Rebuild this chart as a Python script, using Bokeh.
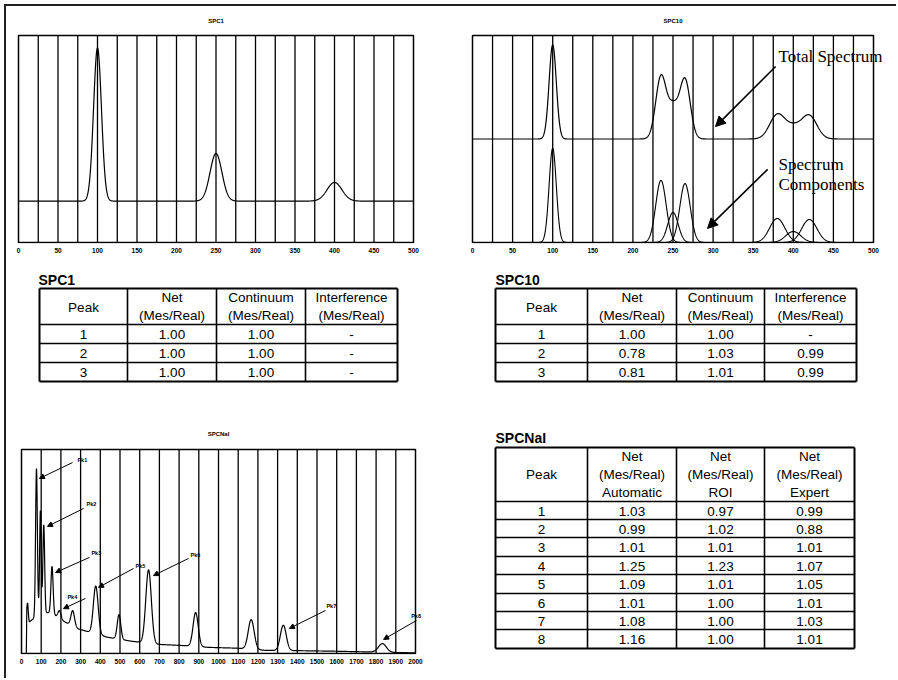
import numpy as np
from bokeh.plotting import figure
from bokeh.layouts import row, column
from bokeh.models import FixedTicker, Label, Arrow, NormalHead, Range1d, Spacer
from bokeh.embed import file_html
from bokeh.resources import INLINE
from bokeh.core.properties import value

# ---------------- data ----------------
# SPC1 spectrum (peaks on a flat continuum)
spc1_centers = [100, 250, 400]
spc1_heights = [0.74, 0.23, 0.09]
spc1_sigmas = [5.0, 7.5, 9.5]
spc1_continuum = 0.20

# SPC10 spectrum components
spc10_centers = [100, 235, 250, 265, 380, 400, 420]
spc10_heights = [0.455, 0.30, 0.145, 0.285, 0.116, 0.053, 0.111]
spc10_sigmas = [4.5, 6.5, 6.5, 6.5, 9.5, 9.5, 9.5]

# SPCNaI spectrum: continuum knots + peaks
nai_cont_x = [22, 24.5, 27, 40, 60, 90, 150, 200, 290, 435, 560, 690, 840, 950, 1100, 1245, 1400, 1600, 1750, 1950, 2000]
nai_cont_y = [0.0, 0.0, 0.20, 0.155, 0.17, 0.20, 0.20, 0.165, 0.12, 0.08, 0.06, 0.045, 0.038, 0.03, 0.026, 0.015, 0.014, 0.011, 0.008, 0.004, 0.003]
nai_centers = [31, 76, 96, 113, 155, 193, 260, 377, 495, 645, 884, 1166, 1329, 1832]
nai_heights = [0.06, 0.72, 0.50, 0.43, 0.23, 0.04, 0.075, 0.235, 0.12, 0.36, 0.166, 0.145, 0.124, 0.042]
nai_sigmas = [3, 4.5, 4, 4.5, 5.5, 8, 9, 12, 9, 14, 13, 15, 15, 20]
nai_peak_labels = ["Pk1", "Pk2", "Pk3", "Pk4", "Pk5", "Pk6", "Pk7", "Pk8"]

# axis ticks
top_label_ticks = [0, 50, 100, 150, 200, 250, 300, 350, 400, 450, 500]
top_grid_ticks = [25, 50, 75, 100, 125, 150, 175, 200, 225, 250, 275, 300, 325, 350, 375, 400, 425, 450, 475]
nai_label_ticks = [0, 100, 200, 300, 400, 500, 600, 700, 800, 900, 1000, 1100, 1200, 1300, 1400, 1500, 1600, 1700, 1800, 1900, 2000]
nai_grid_ticks = [100, 200, 300, 400, 500, 600, 700, 800, 900, 1000, 1100, 1200, 1300, 1400, 1500, 1600, 1700, 1800, 1900]

# tables
spc1_peak = ["1", "2", "3"]
spc1_net = ["1.00", "1.00", "1.00"]
spc1_cont = ["1.00", "1.00", "1.00"]
spc1_interf = ["-", "-", "-"]

spc10_peak = ["1", "2", "3"]
spc10_net = ["1.00", "0.78", "0.81"]
spc10_cont = ["1.00", "1.03", "1.01"]
spc10_interf = ["-", "0.99", "0.99"]

nai_peak = ["1", "2", "3", "4", "5", "6", "7", "8"]
nai_auto = ["1.03", "0.99", "1.01", "1.25", "1.09", "1.01", "1.08", "1.16"]
nai_roi = ["0.97", "1.02", "1.01", "1.23", "1.01", "1.00", "1.00", "1.00"]
nai_expert = ["0.99", "0.88", "1.01", "1.07", "1.05", "1.01", "1.03", "1.01"]

# ---------------- helpers ----------------
SANS = "Liberation Sans"
SERIF = "Liberation Serif"


def gauss(x, c, h, s):
    return h * np.exp(-0.5 * ((x - c) / s) ** 2)


def spectrum_fig(w, h, mbl, mbr, mbt, mbb, xmax, px_per_x, frame_w, px_per_y, top_extra,
                 title_gap, label_ticks, grid_ticks, title):
    # ranges padded so the drawn box (and title) sit inside the frame
    x0 = -2.0 / px_per_x
    x1 = x0 + frame_w / px_per_x
    y0 = -1.0 / px_per_y
    y1 = 1.0 + top_extra / px_per_y
    p = figure(width=w, height=h, x_range=Range1d(x0, x1), y_range=Range1d(y0, y1),
               output_backend="svg", toolbar_location=None, y_axis_type=None,
               min_border_left=mbl, min_border_right=mbr, min_border_top=mbt, min_border_bottom=mbb)
    p.outline_line_color = None
    p.background_fill_color = "white"
    p.border_fill_color = "white"
    ax = p.xaxis[0]
    ax.ticker = FixedTicker(ticks=label_ticks)
    ax.axis_line_color = None
    ax.major_tick_line_color = None
    ax.minor_tick_line_color = None
    ax.major_tick_out = 0
    ax.major_tick_in = 0
    ax.major_label_text_font = SANS
    ax.major_label_text_font_size = "6.5px"
    ax.major_label_text_font_style = "bold"
    ax.major_label_text_color = "black"
    ax.major_label_standoff = 4
    p.xgrid[0].grid_line_color = None
    # vertical grid lines inside the box
    p.segment(x0=grid_ticks, y0=[0] * len(grid_ticks), x1=grid_ticks, y1=[1] * len(grid_ticks),
              line_color="black", line_width=1.3)
    # plot box
    p.quad(left=[0], right=[xmax], bottom=[0], top=[1], fill_color=None,
           line_color="black", line_width=1.5)
    # title centred over the box
    p.add_layout(Label(x=xmax / 2.0, y=1.0 + title_gap / px_per_y, text=title, text_font=SANS,
                       text_font_size="6px", text_font_style="bold", text_align="center",
                       text_baseline="middle", text_color="black"))
    return p


def table_fig(w, h, title, tx, ty, col_x, row_y, header, body, outer_w=2.0, inner_w=1.6):
    p = figure(width=w, height=h, x_range=Range1d(0, w), y_range=Range1d(h, 0),
               output_backend="svg", toolbar_location=None, x_axis_type=None, y_axis_type=None,
               min_border=0, outline_line_color=None)
    p.background_fill_color = "white"
    p.border_fill_color = "white"
    p.grid.visible = False
    p.text(x=[tx], y=[ty], text=[title], text_font=value(SANS), text_font_size="14px",
           text_font_style="bold", text_baseline="middle", text_align="left", text_color="black")
    x0, x1 = col_x[0], col_x[-1]
    y0, y1 = row_y[0], row_y[-1]
    p.segment(x0=[x0] * (len(row_y) - 2), y0=row_y[1:-1], x1=[x1] * (len(row_y) - 2), y1=row_y[1:-1],
              line_color="black", line_width=inner_w)
    p.segment(x0=col_x[1:-1], y0=[y0] * (len(col_x) - 2), x1=col_x[1:-1], y1=[y1] * (len(col_x) - 2),
              line_color="black", line_width=inner_w)
    p.segment(x0=[x0, x0, x0, x1], y0=[y0, y1, y0, y0], x1=[x1, x1, x0, x1], y1=[y0, y1, y1, y1],
              line_color="black", line_width=outer_w)
    hx, hy, ht = [], [], []
    for ci, lines in header:
        for txt, yy in lines:
            hx.append((col_x[ci] + col_x[ci + 1]) / 2)
            hy.append(yy)
            ht.append(txt)
    p.text(x=hx, y=hy, text=ht, text_font=value(SANS), text_font_size="13.5px",
           text_baseline="middle", text_align="center", text_color="black")
    bx, by, bt = [], [], []
    for ci, col in enumerate(body):
        for ri, txt in enumerate(col):
            bx.append((col_x[ci] + col_x[ci + 1]) / 2)
            by.append((row_y[ri + 1] + row_y[ri + 2]) / 2 + 0.5)
            bt.append(txt)
    p.text(x=bx, y=by, text=bt, text_font=value(SANS), text_font_size="13.5px",
           text_baseline="middle", text_align="center", text_color="black")
    return p


def bar(w, h):
    return Spacer(width=w, height=h, styles={"background-color": "#222222"})


# ---------------- SPC1 chart ----------------
p1 = spectrum_fig(434, 256, 10, 25, 6, 19, 500, 0.79, 399, 207.0, 23, 15,
                  top_label_ticks, top_grid_ticks, "SPC1")
x1 = np.linspace(0, 500, 2001)
y1 = np.full_like(x1, spc1_continuum)
for c, hh, s in zip(spc1_centers, spc1_heights, spc1_sigmas):
    y1 = y1 + gauss(x1, c, hh, s)
p1.line(x1, y1, line_color="black", line_width=1.2)

# ---------------- SPC10 chart ----------------
p2 = spectrum_fig(456, 256, 30, 6, 6, 19, 500, 0.802, 420, 207.0, 23, 15,
                  top_label_ticks, top_grid_ticks, "SPC10")
total_offset = 0.5
x2 = np.linspace(0, 500, 2001)
tot = np.full_like(x2, total_offset)
for c, hh, s in zip(spc10_centers, spc10_heights, spc10_sigmas):
    tot = tot + gauss(x2, c, hh, s)
    xc = np.linspace(c - 4 * s, c + 4 * s, 161)
    p2.line(xc, gauss(xc, c, hh, s), line_color="black", line_width=1.1)
p2.line(x2, tot, line_color="black", line_width=1.2)

for txt, yy in [("Total Spectrum", 0.90), ("Spectrum", 0.377), ("Components", 0.28)]:
    p2.add_layout(Label(x=381.5, y=yy, text=txt, text_font=SERIF, text_font_size="17px",
                        text_baseline="middle", text_align="left", text_color="black"))
for xs, ys, xe, ye in [(378, 0.85, 303, 0.56), (368, 0.353, 293, 0.068)]:
    p2.add_layout(Arrow(end=NormalHead(size=10, fill_color="black", line_color="black"),
                        x_start=xs, y_start=ys, x_end=xe, y_end=ye,
                        line_color="black", line_width=1.6))

# ---------------- tables row ----------------
hdr3 = [(0, [("Peak", 45)]),
        (1, [("Net", 35), ("(Mes/Real)", 53)]),
        (2, [("Continuum", 35), ("(Mes/Real)", 53)]),
        (3, [("Interference", 35), ("(Mes/Real)", 53)])]
t1 = table_fig(434, 138, "SPC1", 32, 17, [33, 121, 210, 299, 391], [26, 62, 81, 100, 119],
               hdr3, [spc1_peak, spc1_net, spc1_cont, spc1_interf])
t2 = table_fig(456, 138, "SPC10", 55, 17, [55, 147, 236, 324, 416], [26, 62, 81, 100, 119],
               hdr3, [spc10_peak, spc10_net, spc10_cont, spc10_interf])

# ---------------- SPCNaI chart ----------------
p3 = spectrum_fig(474, 278, 13, 0, 8, 24, 2000, 0.197, 461, 204.0, 41, 16,
                  nai_label_ticks, nai_grid_ticks, "SPCNaI")
x3 = np.linspace(22, 2000, 3957)
y3 = np.interp(x3, nai_cont_x, nai_cont_y)
for c, hh, s in zip(nai_centers, nai_heights, nai_sigmas):
    y3 = y3 + gauss(x3, c, hh, s)
p3.line(x3, y3, line_color="black", line_width=1.2)

pk_label_pos = [(284, 0.95), (330, 0.735), (355, 0.495), (233, 0.275),
                (579, 0.43), (858, 0.485), (1548, 0.235), (1978, 0.186)]
pk_arrows = [(259, 0.936, 91, 0.858), (315, 0.711, 132, 0.623), (345, 0.471, 173, 0.397),
             (325, 0.27, 213, 0.22), (569, 0.417, 391, 0.324), (848, 0.466, 670, 0.382),
             (1543, 0.211, 1360, 0.123), (2005, 0.162, 1838, 0.069)]
for name, (lx, ly), (xs, ys, xe, ye) in zip(nai_peak_labels, pk_label_pos, pk_arrows):
    p3.add_layout(Label(x=lx, y=ly, text=name, text_font=SANS, text_font_size="5.5px",
                        text_font_style="bold", text_baseline="middle", text_align="left",
                        text_color="black"))
    p3.add_layout(Arrow(end=NormalHead(size=5, fill_color="black", line_color="black"),
                        x_start=xs, y_start=ys, x_end=xe, y_end=ye,
                        line_color="black", line_width=1.0))

t3 = table_fig(416, 278, "SPCNaI", 15, 37,
               [15, 107, 196, 284, 374], [47, 101, 119, 137, 156, 174, 193, 211, 229, 248],
               [(0, [("Peak", 74)]),
                (1, [("Net", 56), ("(Mes/Real)", 74), ("Automatic", 92)]),
                (2, [("Net", 56), ("(Mes/Real)", 74), ("ROI", 92)]),
                (3, [("Net", 56), ("(Mes/Real)", 74), ("Expert", 92)])],
               [nai_peak, nai_auto, nai_roi, nai_expert])

# ---------------- layout ----------------
inner = column(row(column(p1), column(p2)),
               row(column(t1), column(t2)),
               row(column(p3), column(t3)))
page = row(Spacer(width=4, height=678),
           column(Spacer(width=892, height=4), bar(892, 2), row(bar(2, 672), inner)))

open("out.html", "w").write(file_html(page, INLINE))
